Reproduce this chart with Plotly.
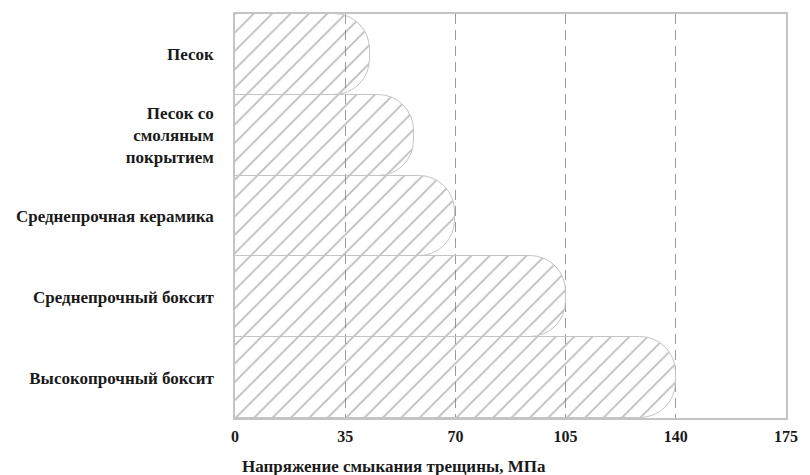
import plotly.graph_objects as go

categories = [
    "Песок",
    "Песок со<br>смоляным<br>покрытием",
    "Среднепрочная керамика",
    "Среднепрочный боксит",
    "Высокопрочный боксит",
]
values = [43, 57, 70, 105, 140]
x_ticks = [0, 35, 70, 105, 140, 175]
x_title = "Напряжение смыкания трещины, МПа"

font_family = "Liberation Serif, Times New Roman, serif"

fig = go.Figure()
fig.add_trace(go.Bar(
    x=values,
    y=categories,
    orientation="h",
    marker=dict(
        color="rgba(255,255,255,0)",
        line=dict(color="#c4c4c4", width=1),
        pattern=dict(shape="/", size=13, solidity=0.14,
                     fgcolor="#7c7c7c", bgcolor="rgba(255,255,255,0)",
                     fillmode="overlay"),
    ),
    showlegend=False,
))

fig.update_layout(
    width=802, height=467,
    margin=dict(l=227, r=24, t=4, b=57),
    paper_bgcolor="white", plot_bgcolor="white",
    bargap=0,
    barcornerradius=36,
    font=dict(family=font_family, size=15, color="#1a1a1a"),
    xaxis=dict(
        range=[0, 175], tickvals=x_ticks, ticktext=[str(v) for v in x_ticks],
        showgrid=True, gridcolor="#9a9a9a", griddash="10px,6px", gridwidth=1,
        zeroline=False,
        showline=True, mirror=True, linecolor="#c4c4c4", linewidth=1.5,
        ticks="", ticklabelstandoff=3,
        tickfont=dict(family=font_family, size=16, color="#1a1a1a", weight="bold"),
    ),
    yaxis=dict(
        categoryorder="array", categoryarray=categories, autorange="reversed",
        showgrid=False, zeroline=False,
        showline=True, mirror=True, linecolor="#c4c4c4", linewidth=1.5,
        ticks="", ticklabelstandoff=16,
        tickfont=dict(family=font_family, size=17, color="#1a1a1a", weight="bold"),
    ),
    annotations=[dict(
        text=x_title, xref="paper", yref="paper", x=0, y=0,
        xanchor="left", yanchor="top", yshift=-37, xshift=5, showarrow=False,
        font=dict(family=font_family, size=17, color="#1a1a1a", weight="bold"),
    )],
)

fig.write_html("out.html")
